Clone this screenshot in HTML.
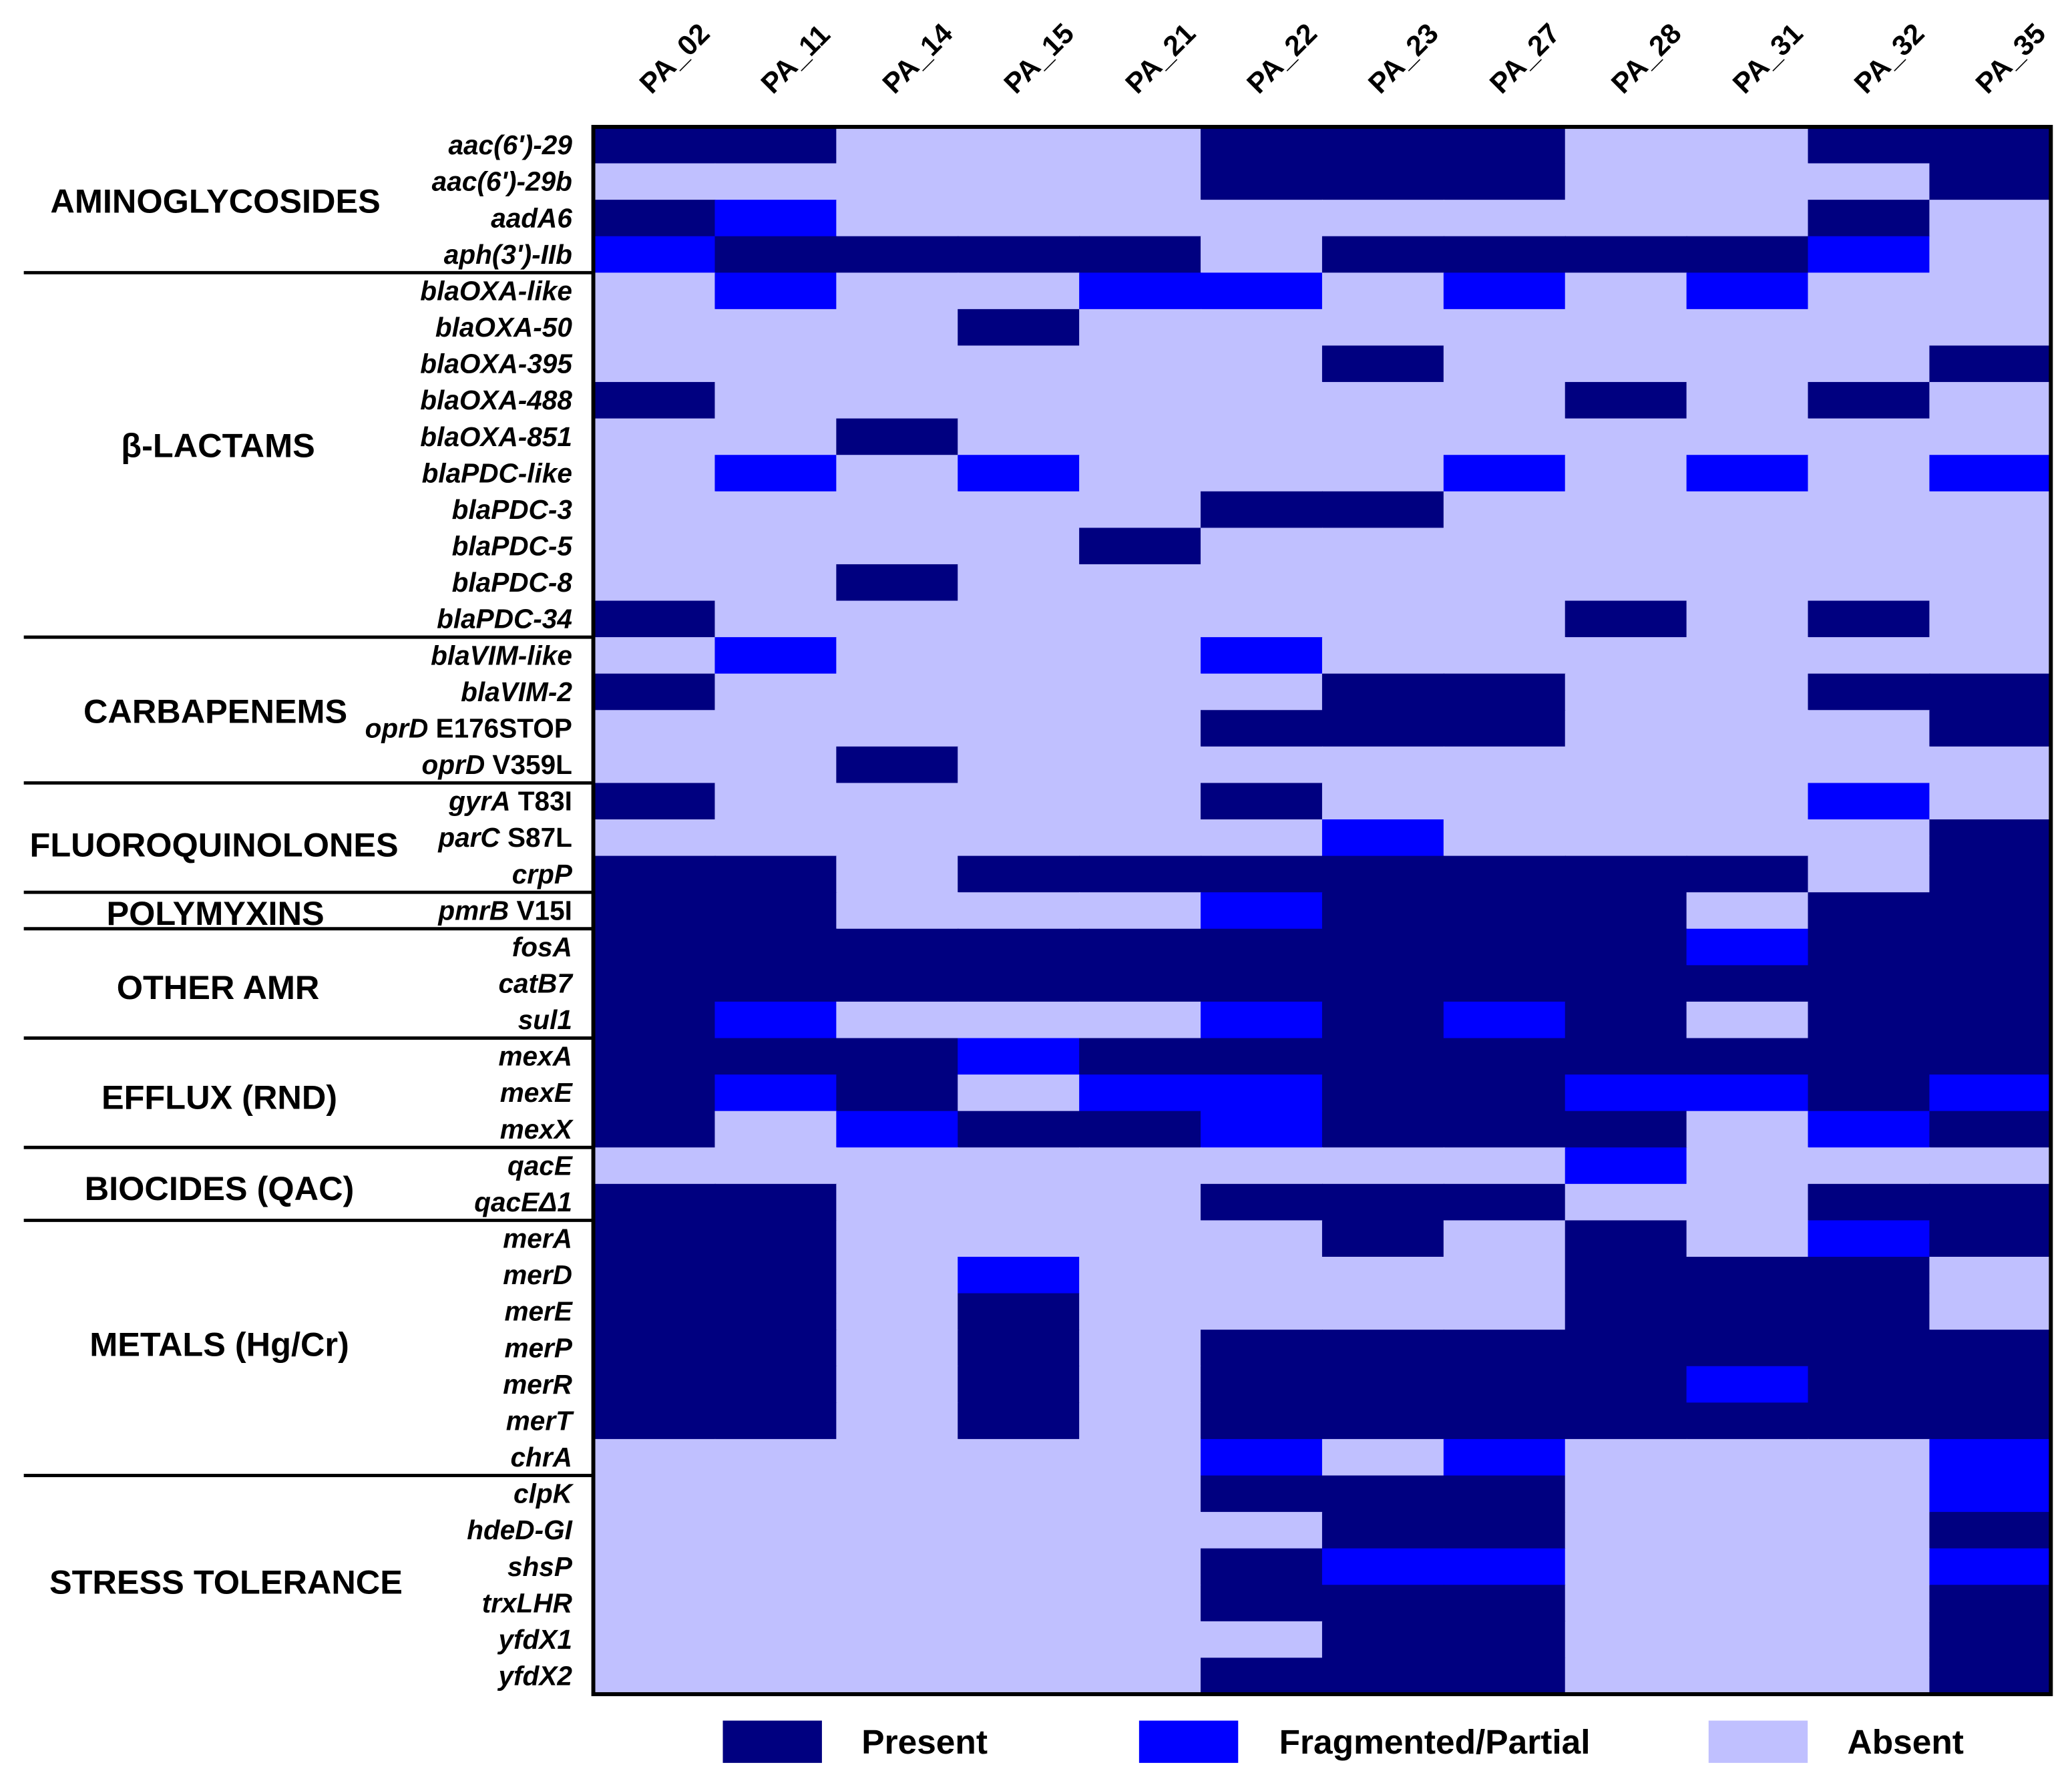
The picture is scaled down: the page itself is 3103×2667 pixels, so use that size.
<!DOCTYPE html>
<html><head><meta charset="utf-8"><style>html,body{margin:0;padding:0;background:#fff}svg{display:block}text{font-family:"Liberation Sans",Arial,sans-serif;font-weight:bold;fill:#000}</style></head>
<body>
<svg id="chart" width="3103" height="2667" viewBox="0 0 1568 1347.7" xmlns="http://www.w3.org/2000/svg"></svg>
<script>
const columns=["PA_02","PA_11","PA_14","PA_15","PA_21","PA_22","PA_23","PA_27","PA_28","PA_31","PA_32","PA_35"];
const genes=[["aac(6')-29",""],["aac(6')-29b",""],["aadA6",""],["aph(3')-IIb",""],["blaOXA-like",""],["blaOXA-50",""],["blaOXA-395",""],["blaOXA-488",""],["blaOXA-851",""],["blaPDC-like",""],["blaPDC-3",""],["blaPDC-5",""],["blaPDC-8",""],["blaPDC-34",""],["blaVIM-like",""],["blaVIM-2",""],["oprD"," E176STOP"],["oprD"," V359L"],["gyrA"," T83I"],["parC"," S87L"],["crpP",""],["pmrB"," V15I"],["fosA",""],["catB7",""],["sul1",""],["mexA",""],["mexE",""],["mexX",""],["qacE",""],["qacEΔ1",""],["merA",""],["merD",""],["merE",""],["merP",""],["merR",""],["merT",""],["chrA",""],["clpK",""],["hdeD-GI",""],["shsP",""],["trxLHR",""],["yfdX1",""],["yfdX2",""]];
const status=["PPAAAPPPAAPP","AAAAAPPPAAAP","PFAAAAAAAAPA","FPPPPAPPPPFA",
"AFAAFFAFAFAA","AAAPAAAAAAAA","AAAAAAPAAAAP","PAAAAAAAPAPA","AAPAAAAAAAAA","AFAFAAAFAFAF","AAAAAPPAAAAA","AAAAPAAAAAAA","AAPAAAAAAAAA","PAAAAAAAPAPA",
"AFAAAFAAAAAA","PAAAAAPPAAPP","AAAAAPPPAAAP","AAPAAAAAAAAA",
"PAAAAPAAAAFA","AAAAAAFAAAAP","PPAPPPPPPPAP",
"PPAAAFPPPAPP",
"PPPPPPPPPFPP","PPPPPPPPPPPP","PFAAAFPFPAPP",
"PPPFPPPPPPPP","PFPAFFPPFFPF","PAFPPFPPPAFP",
"AAAAAAAAFAAA","PPAAAPPPAAPP",
"PPAAAAPAPAFP","PPAFAAAAPPPA","PPAPAAAAPPPA","PPAPAPPPPPPP","PPAPAPPPPFPP","PPAPAPPPPPPP","AAAAAFAFAAAF",
"AAAAAPPPAAAF","AAAAAAPPAAAP","AAAAAPFFAAAF","AAAAAPPPAAAP","AAAAAAPPAAAP","AAAAAPPPAAAP"];
const groups=[["AMINOGLYCOSIDES",0,4,163,152],["β-LACTAMS",4,14,165,337],["CARBAPENEMS",14,18,163,538],["FLUOROQUINOLONES",18,21,162,639],["POLYMYXINS",21,22,163,691],["OTHER AMR",22,25,165,747],["EFFLUX (RND)",25,28,166,830],["BIOCIDES (QAC)",28,30,166,899],["METALS (Hg/Cr)",30,37,166,1017],["STRESS TOLERANCE",37,43,171,1197]];
const legendItems=[["P","Present"],["F","Fragmented/Partial"],["A","Absent"]];
const colors={P:"#000080",F:"#0000ff",A:"#c0c0ff"};
const svg=document.getElementById('chart');const NS="http://www.w3.org/2000/svg";
const X0=449,X1=1552,Y0=96,Y1=1282;
const cw=(X1-X0)/columns.length,rh=(Y1-Y0)/genes.length;
const xs=i=>X0+i*cw, ys=j=>Y0+j*rh;
function mk(t,a,p){const e=document.createElementNS(NS,t);for(const k in a)e.setAttribute(k,a[k]);(p||svg).appendChild(e);return e;}
status.forEach((row,j)=>{for(let i=0;i<columns.length;i++){const r=mk('rect',{x:xs(i),y:ys(j),width:cw+0.6,height:rh+0.6,fill:colors[row[i]]});

}});
const b=mk('rect',{x:X0,y:Y0,width:X1-X0,height:Y1-Y0,fill:'none',stroke:'#000','stroke-width':3});


columns.forEach((c,i)=>{const cx=xs(i)+cw/2-2;const t=mk('text',{x:cx,y:72,'font-size':21.5,transform:`rotate(-45 ${cx} 72)`});t.textContent=c;

});
genes.forEach((g,j)=>{const t=mk('text',{x:433,y:ys(j)+rh/2+7,'font-size':20.5,'text-anchor':'end'});
const s1=mk('tspan',{'font-style':'italic'},t);s1.textContent=g[0];
if(g[1]){const s2=mk('tspan',{},t);s2.textContent=g[1];}

});
groups.forEach((g,k)=>{const t=mk('text',{x:g[3],y:g[4]+9,'font-size':25.5,'text-anchor':'middle'});t.textContent=g[0];


if(g[1]>0){const l=mk('line',{x1:18,x2:X0,y1:ys(g[1]),y2:ys(g[1]),stroke:'#000','stroke-width':2.5});

}});
const lx=[547,862,1293],tx=[652,968,1398];
legendItems.forEach((it,k)=>{const r=mk('rect',{x:lx[k],y:1302,width:75,height:32,fill:colors[it[0]]});


const t=mk('text',{x:tx[k],y:1327,'font-size':26});t.textContent=it[1];

});
</script>
</body></html>
